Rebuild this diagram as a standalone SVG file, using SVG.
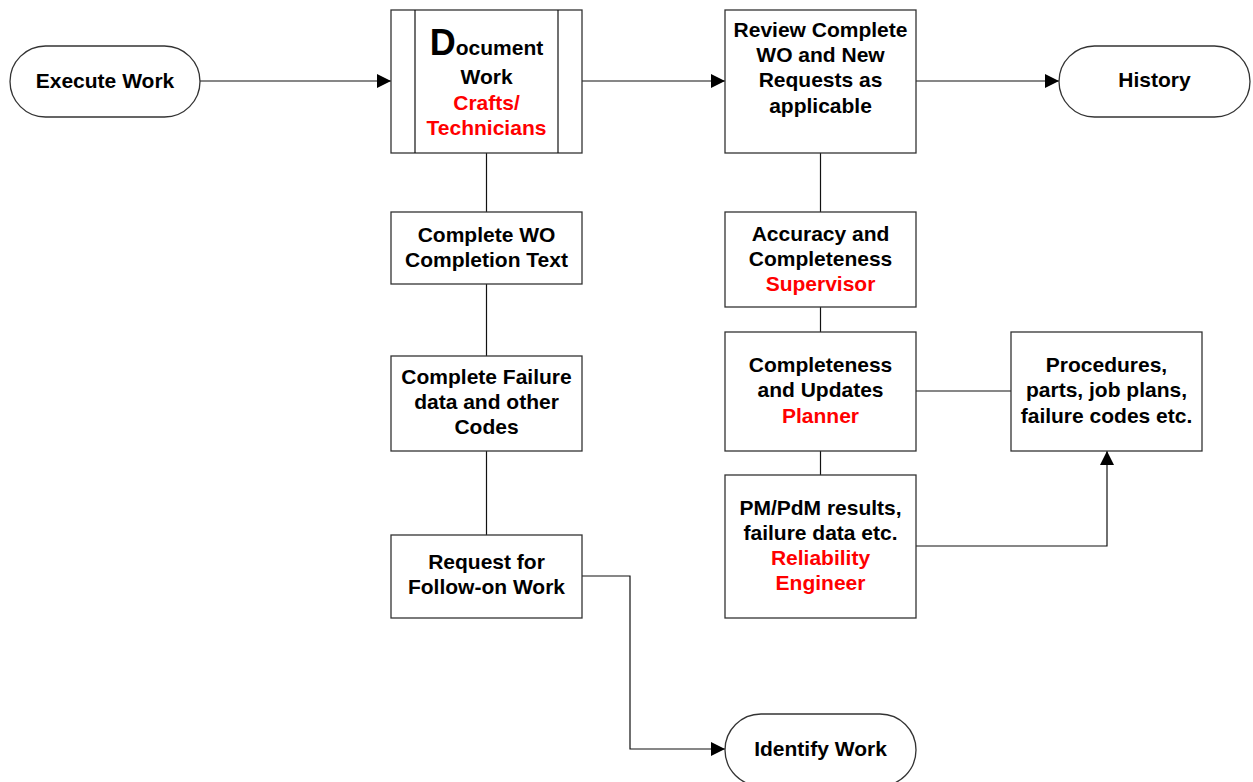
<svg xmlns="http://www.w3.org/2000/svg" width="1253" height="782" viewBox="0 0 1253 782">
<style>
.box{fill:#fff;stroke:#333;stroke-width:1.3}
.ln{fill:none;stroke:#111;stroke-width:1.2}
text{font-family:"Liberation Sans",Arial,sans-serif;font-weight:bold;font-size:21px;text-anchor:middle;fill:#000}
.r{fill:#ff0000}
</style>
<defs>
<marker id="ah" viewBox="0 0 10 10" refX="10" refY="5" markerWidth="14" markerHeight="14" markerUnits="userSpaceOnUse" orient="auto">
<path d="M0,0 L10,5 L0,10 z" fill="#000"/>
</marker>
</defs>
<rect width="1253" height="782" fill="#fff"/>
<g id="connectors">
<line class="ln" x1="200" y1="81" x2="391" y2="81" marker-end="url(#ah)"/>
<line class="ln" x1="582" y1="81" x2="725" y2="81" marker-end="url(#ah)"/>
<line class="ln" x1="916" y1="81" x2="1059" y2="81" marker-end="url(#ah)"/>
<line class="ln" x1="486.5" y1="153" x2="486.5" y2="212"/>
<line class="ln" x1="486.5" y1="284" x2="486.5" y2="356"/>
<line class="ln" x1="486.5" y1="451" x2="486.5" y2="535"/>
<line class="ln" x1="820.5" y1="153" x2="820.5" y2="212"/>
<line class="ln" x1="820.5" y1="307" x2="820.5" y2="332"/>
<line class="ln" x1="820.5" y1="451" x2="820.5" y2="475"/>
<line class="ln" x1="916" y1="391" x2="1011" y2="391"/>
<polyline class="ln" points="916,546 1107,546 1107,451" marker-end="url(#ah)"/>
<polyline class="ln" points="582,576 630,576 630,749 725,749" marker-end="url(#ah)"/>
</g>
<g id="execute-work">
<rect class="box" x="10" y="46" width="190" height="71" rx="35.5"/>
<text x="105" y="88">Execute Work</text>
</g>
<g id="document-work">
<rect class="box" x="391" y="10" width="191" height="143"/>
<line class="ln" x1="415" y1="10" x2="415" y2="153"/>
<line class="ln" x1="558" y1="10" x2="558" y2="153"/>
<text x="486.5" y="55"><tspan font-size="36">D</tspan>ocument</text>
<text x="486.5" y="84">Work</text>
<text class="r" x="486.5" y="110">Crafts/</text>
<text class="r" x="486.5" y="135">Technicians</text>
</g>
<g id="review">
<rect class="box" x="725" y="10" width="191" height="143"/>
<text x="820.5" y="37">Review Complete</text>
<text x="820.5" y="62">WO and New</text>
<text x="820.5" y="87">Requests as</text>
<text x="820.5" y="113">applicable</text>
</g>
<g id="history">
<rect class="box" x="1059" y="46" width="191" height="71" rx="35.5"/>
<text x="1154.5" y="87">History</text>
</g>
<g id="complete-wo">
<rect class="box" x="391" y="212" width="191" height="72"/>
<text x="486.5" y="242">Complete WO</text>
<text x="486.5" y="267">Completion Text</text>
</g>
<g id="complete-failure">
<rect class="box" x="391" y="356" width="191" height="95"/>
<text x="486.5" y="384">Complete Failure</text>
<text x="486.5" y="409">data and other</text>
<text x="486.5" y="434">Codes</text>
</g>
<g id="request-follow-on">
<rect class="box" x="391" y="535" width="191" height="83"/>
<text x="486.5" y="569">Request for</text>
<text x="486.5" y="594">Follow-on Work</text>
</g>
<g id="accuracy">
<rect class="box" x="725" y="212" width="191" height="95"/>
<text x="820.5" y="241">Accuracy and</text>
<text x="820.5" y="266">Completeness</text>
<text class="r" x="820.5" y="291">Supervisor</text>
</g>
<g id="completeness">
<rect class="box" x="725" y="332" width="191" height="119"/>
<text x="820.5" y="372">Completeness</text>
<text x="820.5" y="397">and Updates</text>
<text class="r" x="820.5" y="423">Planner</text>
</g>
<g id="pm-pdm">
<rect class="box" x="725" y="475" width="191" height="143"/>
<text x="820.5" y="515">PM/PdM results,</text>
<text x="820.5" y="540">failure data etc.</text>
<text class="r" x="820.5" y="565">Reliability</text>
<text class="r" x="820.5" y="590">Engineer</text>
</g>
<g id="procedures">
<rect class="box" x="1011" y="332" width="191" height="119"/>
<text x="1106.5" y="372">Procedures,</text>
<text x="1106.5" y="397">parts, job plans,</text>
<text x="1106.5" y="423">failure codes etc.</text>
</g>
<g id="identify-work">
<rect class="box" x="725" y="714" width="191" height="72" rx="36"/>
<text x="820.5" y="756">Identify Work</text>
</g>
</svg>
